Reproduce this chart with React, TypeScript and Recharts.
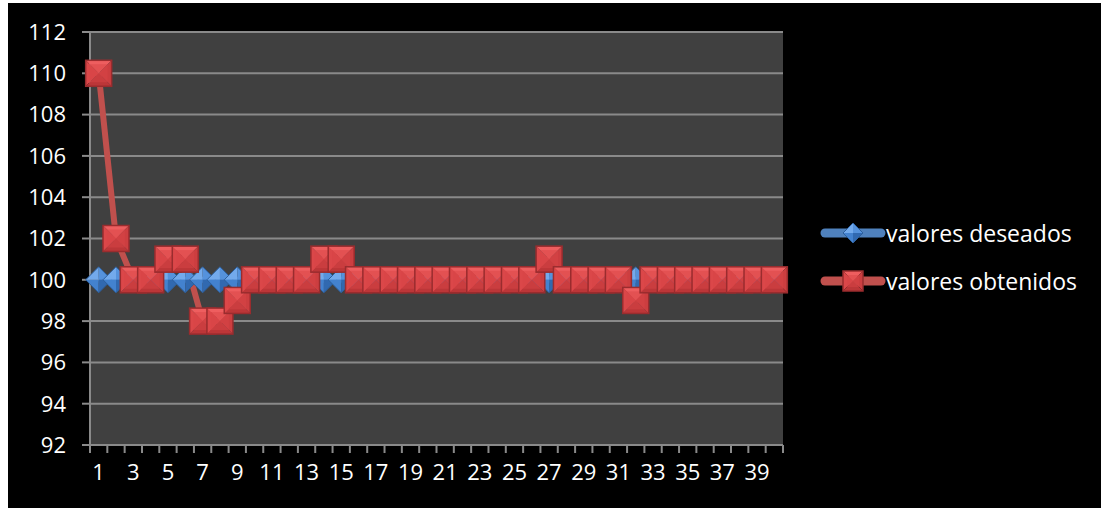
import React from 'react';
import { LineChart, Line, XAxis, YAxis, CartesianGrid } from 'recharts';

// --- data ---
const muestras = [
  1, 2, 3, 4, 5, 6, 7, 8, 9, 10, 11, 12, 13, 14, 15, 16, 17, 18, 19, 20,
  21, 22, 23, 24, 25, 26, 27, 28, 29, 30, 31, 32, 33, 34, 35, 36, 37, 38, 39, 40,
];
const valoresDeseados = [
  100, 100, 100, 100, 100, 100, 100, 100, 100, 100, 100, 100, 100, 100, 100, 100, 100, 100, 100, 100,
  100, 100, 100, 100, 100, 100, 100, 100, 100, 100, 100, 100, 100, 100, 100, 100, 100, 100, 100, 100,
];
const valoresObtenidos = [
  110, 102, 100, 100, 101, 101, 98, 98, 99, 100, 100, 100, 100, 101, 101, 100, 100, 100, 100, 100,
  100, 100, 100, 100, 100, 100, 101, 100, 100, 100, 100, 99, 100, 100, 100, 100, 100, 100, 100, 100,
];
const yTicks = [92, 94, 96, 98, 100, 102, 104, 106, 108, 110, 112];
// label ticks sit on odd samples, tick marks sit between samples
const xLabelTicks = [1, 3, 5, 7, 9, 11, 13, 15, 17, 19, 21, 23, 25, 27, 29, 31, 33, 35, 37, 39];
const xMarkTicks = [
  0.5, 1.5, 2.5, 3.5, 4.5, 5.5, 6.5, 7.5, 8.5, 9.5, 10.5, 11.5, 12.5, 13.5, 14.5, 15.5, 16.5, 17.5, 18.5, 19.5, 20.5,
  21.5, 22.5, 23.5, 24.5, 25.5, 26.5, 27.5, 28.5, 29.5, 30.5, 31.5, 32.5, 33.5, 34.5, 35.5, 36.5, 37.5, 38.5, 39.5, 40.5,
];
const seriesNames = ['valores deseados', 'valores obtenidos'];

const data = muestras.map((m, i) => ({
  muestra: m,
  deseado: valoresDeseados[i],
  obtenido: valoresObtenidos[i],
}));

const FONT = '"Open Sans", sans-serif';
const GRID = '#8a8a8a';
const BLUE = '#4f81bd';
const RED = '#c0504d';

// --- markers ---
const Diamond = ({ cx, cy, r = 13 }: { cx: number; cy: number; r?: number }) => (
  <g>
    <polygon points={`${cx},${cy - r} ${cx},${cy} ${cx - r},${cy}`} fill="#73aaec" />
    <polygon points={`${cx},${cy - r} ${cx + r},${cy} ${cx},${cy}`} fill="#5592dc" />
    <polygon points={`${cx - r},${cy} ${cx},${cy} ${cx},${cy + r}`} fill="#4382cf" />
    <polygon points={`${cx},${cy} ${cx + r},${cy} ${cx},${cy + r}`} fill="#3169b0" />
    <polygon
      points={`${cx},${cy - r} ${cx + r},${cy} ${cx},${cy + r} ${cx - r},${cy}`}
      fill="none"
      stroke="#2d5f9c"
      strokeWidth={1}
    />
  </g>
);

const Square = ({ cx, cy, r = 13 }: { cx: number; cy: number; r?: number }) => {
  const l = cx - r, t = cy - r, rr = cx + r, b = cy + r;
  return (
    <g>
      <polygon points={`${l},${t} ${rr},${t} ${cx},${cy}`} fill="#ee5e5f" />
      <polygon points={`${l},${t} ${cx},${cy} ${l},${b}`} fill="#db4749" />
      <polygon points={`${rr},${t} ${rr},${b} ${cx},${cy}`} fill="#cc3e40" />
      <polygon points={`${l},${b} ${cx},${cy} ${rr},${b}`} fill="#bc3638" />
      <rect x={l + 4} y={t + 4} width={2 * r - 8} height={2 * r - 8} fill="#d84345" opacity={0.5} />
      <rect x={l} y={t} width={2 * r} height={2 * r} fill="none" stroke="#9a2c2e" strokeWidth={1.5} />
    </g>
  );
};

const DiamondDot = (props: any) => <Diamond key={`d-${props.index}`} cx={props.cx} cy={props.cy} />;
const SquareDot = (props: any) => <Square key={`s-${props.index}`} cx={props.cx} cy={props.cy} />;

// --- x axis tick: marks between samples, labels on odd samples ---
const XTick = (props: any) => {
  const { x, y, payload } = props;
  const v = payload.value;
  if (v % 1 !== 0) {
    return <line x1={x} y1={y} x2={x} y2={y + 8} stroke={GRID} strokeWidth={2} />;
  }
  return (
    <text x={x} y={y + 29} textAnchor="middle" dominantBaseline="middle" fill="#ffffff" fontSize={22} fontFamily={FONT}>
      {v}
    </text>
  );
};

// --- legend (drawn beside the plot) ---
const ChartLegend = () => {
  const colors = [BLUE, RED];
  return (
    <div style={{ position: 'absolute', left: 812, top: 206 }}>
      {seriesNames.map((name, i) => (
        <div key={name} style={{ display: 'flex', alignItems: 'center', height: 48 }}>
          <svg width={66} height={30}>
            <line x1={5} y1={15} x2={61} y2={15} stroke={colors[i]} strokeWidth={9} strokeLinecap="round" />
            {i === 0 ? <Diamond cx={33} cy={15} r={10} /> : <Square cx={33} cy={15} r={10} />}
          </svg>
          <span style={{ color: '#ffffff', fontFamily: FONT, fontSize: 23, whiteSpace: 'nowrap' }}>{name}</span>
        </div>
      ))}
    </div>
  );
};

export default function App() {
  return (
    <div style={{ position: 'fixed', left: 8, top: 3, width: 1093, height: 505, background: '#000000' }}>
      <LineChart width={1093} height={505} data={data} margin={{ top: 29, right: 318, bottom: 23, left: 0 }}>
        <CartesianGrid horizontal vertical={false} stroke={GRID} strokeWidth={2} fill="#404040" />
        <XAxis
          dataKey="muestra"
          type="number"
          domain={[0.5, 40.5]}
          ticks={[...xMarkTicks, ...xLabelTicks]}
          interval={0}
          tick={<XTick />}
          tickLine={false}
          tickSize={0}
          tickMargin={0}
          height={40}
          axisLine={{ stroke: GRID, strokeWidth: 2 }}
        />
        <YAxis
          domain={[92, 112]}
          ticks={yTicks}
          interval={0}
          width={82}
          tickSize={8}
          tickMargin={16}
          tickLine={{ stroke: GRID, strokeWidth: 2 }}
          axisLine={{ stroke: GRID, strokeWidth: 2 }}
          tick={{ fill: '#ffffff', fontSize: 22, fontFamily: FONT }}
        />
        <Line
          type="linear"
          dataKey="deseado"
          name={seriesNames[0]}
          stroke={BLUE}
          strokeWidth={6}
          dot={DiamondDot}
          activeDot={false}
          isAnimationActive={false}
        />
        <Line
          type="linear"
          dataKey="obtenido"
          name={seriesNames[1]}
          stroke={RED}
          strokeWidth={6}
          dot={SquareDot}
          activeDot={false}
          isAnimationActive={false}
        />
      </LineChart>
      <ChartLegend />
    </div>
  );
}
